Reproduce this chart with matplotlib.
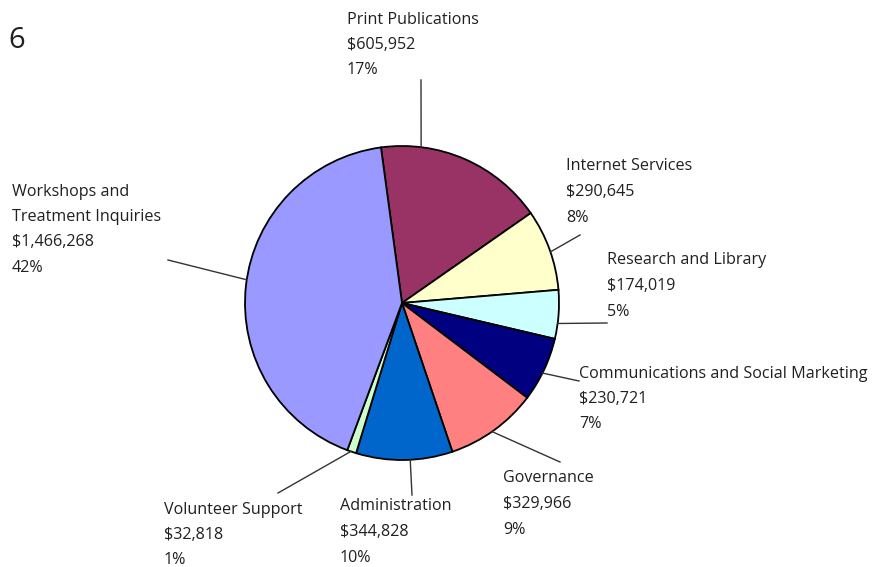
import numpy as np
import matplotlib.pyplot as plt

plt.rcParams['font.family'] = ['Open Sans', 'DejaVu Sans']

# 数据
labels = ['Print Publications', 'Internet Services', 'Research and Library',
          'Communications and Social Marketing', 'Governance', 'Administration',
          'Volunteer Support', 'Workshops and\nTreatment Inquiries']
values = [605952, 290645, 174019, 230721, 329966, 344828, 32818, 1466268]
colors = ['#993366', '#FFFFCC', '#CCFFFF', '#000080', '#FF8080', '#0066CC',
          '#CCFFCC', '#9999FF']

# 标签位置（像素，左上角）与引线
label_px = [(347, 19.5), (566, 166.5), (607, 260.5), (579, 373.5), (503, 478.5),
            (340, 506.5), (164, 509.5), (12, 191.5)]
line_out_px = [(421, 80), (580, 235), (607, 323), (579, 381), (560, 462),
               (412, 495), (278, 493), (168, 260)]
line_angle = [83, 19, -7.5, -26.5, -55, -87, -109, 171.5]

cx, cy, R = 402, 303, 157


def to_data(px, py):
    return (px - cx) / R, (cy - py) / R


fig = plt.figure(figsize=(8.89, 5.67), dpi=100)
ax = fig.add_axes([0, 0, 1, 1])

ax.pie(values, colors=colors, startangle=97.7, counterclock=False, radius=1,
       wedgeprops=dict(edgecolor='black', linewidth=1.3))

ax.set_xlim(-cx / R, (889 - cx) / R)
ax.set_ylim(-(567 - cy) / R, cy / R)
ax.set_aspect('equal')
ax.axis('off')

total = sum(values)
for lab, v, (lx, ly), (ox, oy), a in zip(labels, values, label_px, line_out_px, line_angle):
    pct = '%d%%' % round(v / total * 100)
    lines = lab.split('\n') + ['${:,}'.format(v), pct]
    for i, s in enumerate(lines):
        x, y = to_data(lx, ly + i * 25.5)
        ax.text(x, y, s, fontsize=11.6, color='#231F20', ha='left', va='center')
    x0, y0 = np.cos(np.radians(a)), np.sin(np.radians(a))
    x1, y1 = to_data(ox, oy)
    ax.plot([x0, x1], [y0, y1], color='#333333', lw=1)

x, y = to_data(8, 40)
ax.text(x, y, '6', fontsize=21, color='#231F20', ha='left', va='center')

plt.savefig('out.png')
